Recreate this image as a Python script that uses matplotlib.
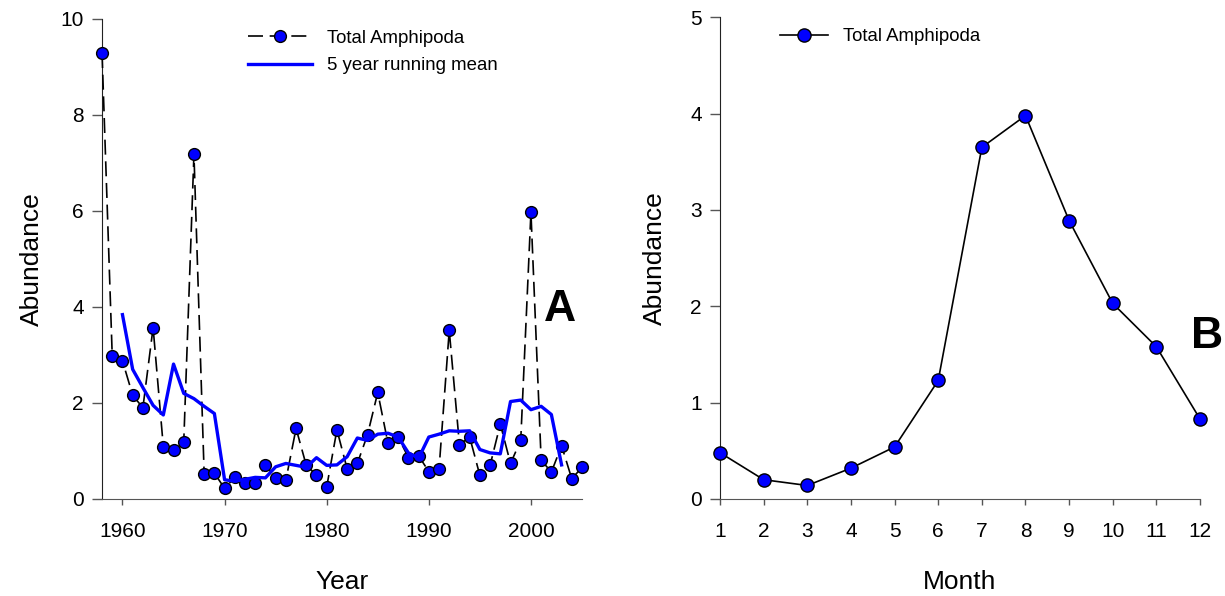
import matplotlib
matplotlib.use("Agg")
import matplotlib.pyplot as plt

plt.rcParams["font.family"] = ["Liberation Sans", "DejaVu Sans"]

# ---------------- data ----------------
years = list(range(1958, 2006))
amphipoda = [9.29, 2.97, 2.88, 2.16, 1.90, 3.57, 1.09, 1.01, 1.18, 7.18,
             0.52, 0.54, 0.22, 0.45, 0.33, 0.33, 0.70, 0.44, 0.39, 1.47,
             0.70, 0.50, 0.25, 1.44, 0.63, 0.74, 1.34, 2.22, 1.16, 1.29,
             0.86, 0.90, 0.57, 0.62, 3.51, 1.13, 1.29, 0.49, 0.70, 1.56,
             0.74, 1.22, 5.97, 0.81, 0.56, 1.11, 0.42, 0.66]

rm_years = list(range(1960, 2004))
running_mean = [3.84, 2.70, 2.32, 1.95, 1.75, 2.81, 2.20, 2.09, 1.93, 1.78,
                0.40, 0.37, 0.41, 0.45, 0.44, 0.67, 0.74, 0.70, 0.66, 0.86,
                0.70, 0.71, 0.88, 1.27, 1.22, 1.35, 1.37, 1.29, 0.96, 0.85,
                1.29, 1.35, 1.42, 1.41, 1.42, 1.03, 0.96, 0.94, 2.03, 2.06,
                1.86, 1.93, 1.76, 0.71]

months = list(range(1, 13))
monthly = [0.48, 0.20, 0.14, 0.32, 0.54, 1.23, 3.65, 3.98, 2.89, 2.03, 1.58, 0.83]

# ---------------- figure ----------------
fig = plt.figure(figsize=(12.25, 5.96), dpi=100)
axA = fig.add_axes([0.0833, 0.1628, 0.3918, 0.8054])
axB = fig.add_axes([0.5878, 0.1628, 0.3918, 0.8082])

for ax in (axA, axB):
    for s in ("top", "right"):
        ax.spines[s].set_visible(False)
    ax.spines["left"].set_color("#222222")
    ax.spines["bottom"].set_color("#555555")
    ax.tick_params(direction="out", width=1, colors="#555555",
                   labelcolor="black", labelsize=15)
    ax.tick_params(axis="y", length=7, pad=6)
    ax.tick_params(axis="x", length=4.5, pad=12)
axA.set_ylabel("Abundance", fontsize=19, labelpad=12)
axB.set_ylabel("Abundance", fontsize=19, labelpad=17)

# panel A
axA.plot(years, amphipoda, ls=(0, (9, 4)), c="k", lw=1.2,
         marker="o", ms=8.5, mfc="#0000ff", mec="k", mew=1,
         label="Total Amphipoda", clip_on=False, zorder=3)
axA.plot(rm_years, running_mean, c="#0000ff", lw=2.4,
         label="5 year running mean", zorder=4)
axA.set_xlim(1958, 2005)
axA.set_ylim(0, 10)
axA.set_xticks([1960, 1970, 1980, 1990, 2000])
axA.set_yticks([0, 2, 4, 6, 8, 10])
axA.set_xlabel("Year", fontsize=19, labelpad=21)
axA.legend(loc="upper left", bbox_to_anchor=(0.27, 1.012), frameon=False,
           fontsize=13.4, handlelength=3.4, numpoints=1, labelspacing=0.55,
           handletextpad=0.8)
axA.text(0.955, 0.395, "A", transform=axA.transAxes, fontsize=32,
         fontweight="bold", ha="center", va="center")

# panel B
axB.plot(months, monthly, c="k", lw=1.2, marker="o", ms=9.5,
         mfc="#0000ff", mec="k", mew=1, label="Total Amphipoda",
         clip_on=False, zorder=3)
axB.set_xlim(1, 12)
axB.set_ylim(0, 5)
axB.set_xticks(months)
axB.set_yticks([0, 1, 2, 3, 4, 5])
axB.set_xlabel("Month", fontsize=19, labelpad=21)
axB.legend(loc="upper left", bbox_to_anchor=(0.09, 1.012), frameon=False,
           fontsize=13.4, handlelength=2.6, numpoints=1, handletextpad=0.8)
fig.text(0.9985, 0.435, "B", fontsize=32, fontweight="bold",
         ha="right", va="center")

fig.savefig("out.png", dpi=100)
